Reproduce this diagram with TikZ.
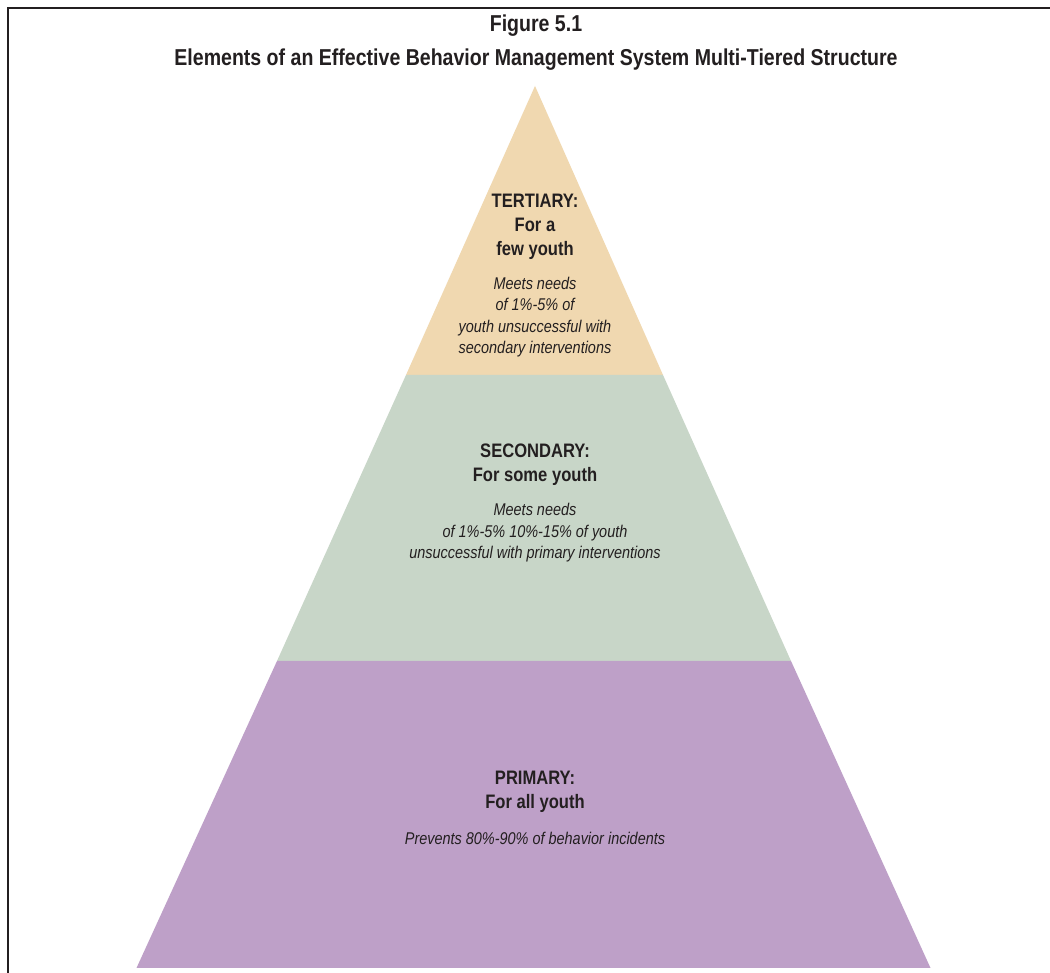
\documentclass[tikz,border=0pt]{standalone}
\usepackage{fontspec}
\setmainfont{Liberation Sans}[FakeStretch=0.85]
\usetikzlibrary{calc}
\definecolor{tan}{RGB}{240,216,176}
\definecolor{sage}{RGB}{200,214,200}
\definecolor{lilac}{RGB}{190,160,200}
\definecolor{ink}{RGB}{35,31,32}
\tikzset{
  x=1pt,y=1pt,
  boldtxt/.style={font=\bfseries\fontsize{19.5}{24}\selectfont, text=ink, align=center, inner sep=0pt},
  ittxt/.style={font=\itshape\fontsize{17}{21.5}\selectfont, text=ink, align=center, inner sep=0pt},
  titletxt/.style={font=\bfseries\fontsize{23}{34}\selectfont, text=ink, align=center, inner sep=0pt},
}
\begin{document}
\begin{tikzpicture}
\clip (0,0) rectangle (1050,973);
\fill[white] (0,0) rectangle (1050,973);
\draw[line width=1.6pt, ink] (8,-20) -- (8,965) -- (1070,965);

\coordinate (apex) at (535,887);
\coordinate (l1) at (406,598);
\coordinate (r1) at (663,598);
\coordinate (l2) at (277,312);
\coordinate (r2) at (791,312);
\coordinate (bl) at (136.5,5);
\coordinate (br) at (930.5,5);

\fill[tan] (apex) -- (l1) -- (r1) -- cycle;
\fill[sage] (l1) -- (l2) -- (r2) -- (r1) -- cycle;
\fill[lilac] (l2) -- (bl) -- (br) -- (r2) -- cycle;

\node[titletxt] (title) at (536,930) {Figure 5.1\\Elements of an Effective Behavior Management System Multi-Tiered Structure};

\node[boldtxt] (terh) at (535,746) {TERTIARY:\\For a\\few youth};
\node[ittxt] (terd) at (535,656) {Meets needs\\of 1\%-5\% of\\youth unsuccessful with\\secondary interventions};

\node[boldtxt] (sech) at (535,508) {SECONDARY:\\For some youth};
\node[ittxt] (secd) at (535,440) {Meets needs\\of 1\%-5\% 10\%-15\% of youth\\unsuccessful with primary interventions};

\node[boldtxt] (prih) at (535,181) {PRIMARY:\\For all youth};
\node[ittxt] (prid) at (535,135) {Prevents 80\%-90\% of behavior incidents};
\end{tikzpicture}
\end{document}
